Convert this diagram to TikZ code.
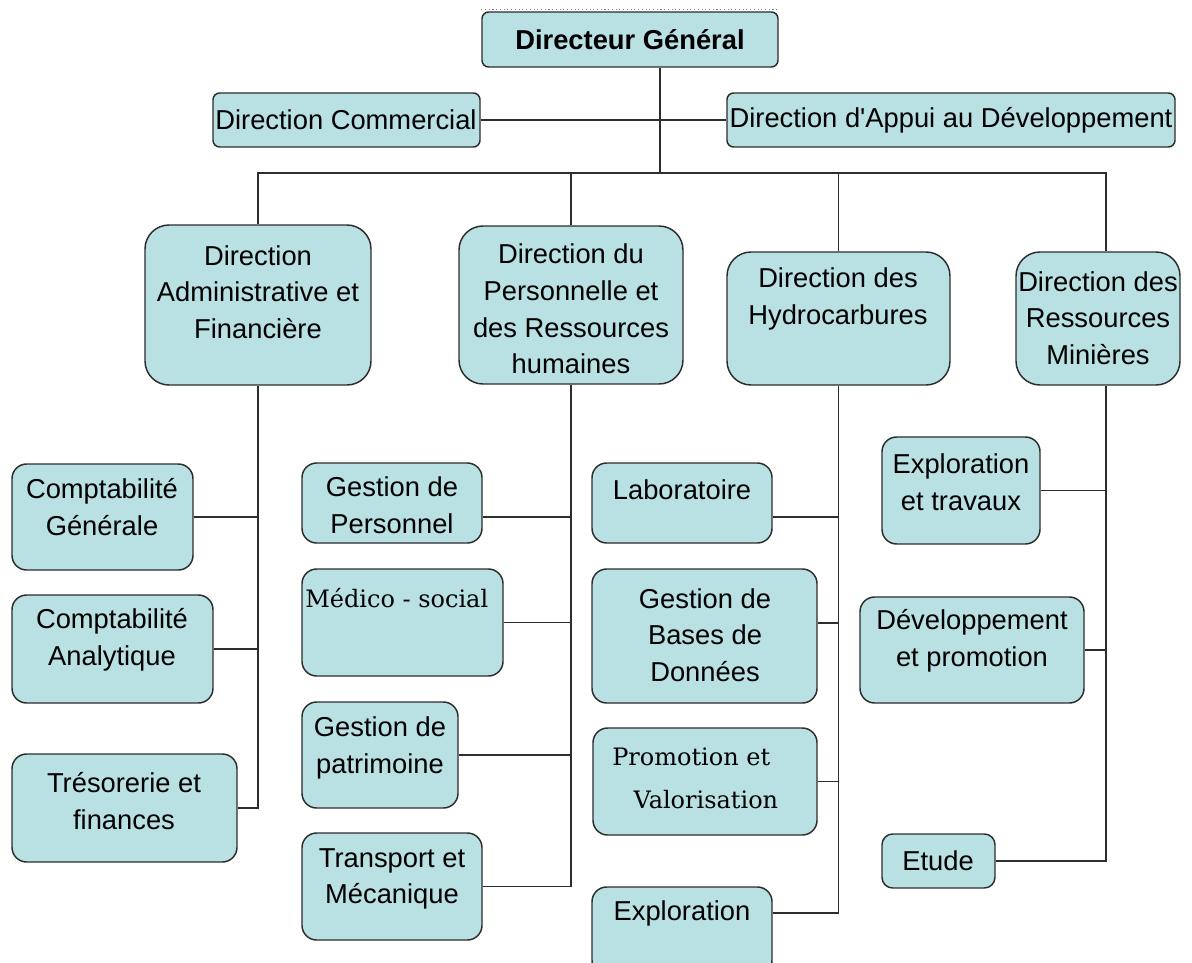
\documentclass[tikz,border=0pt]{standalone}
\usepackage{fontspec}
\setmainfont{Liberation Sans}
\newfontfamily\serifbox{DejaVu Serif}
\usetikzlibrary{fit}
\definecolor{boxfill}{RGB}{185,224,227}
\definecolor{boxline}{RGB}{45,45,45}
\begin{document}
\begin{tikzpicture}[x=0.75pt, y=-0.75pt,
    box/.style={draw=boxline, fill=boxfill, line width=1.1pt, inner sep=0pt, rounded corners=11pt},
    topbox/.style={box, rounded corners=5pt},
    bigbox/.style={box, rounded corners=18pt},
    txt/.style={align=center, inner sep=0pt, font=\fontsize{20.5}{27.5}\selectfont},
    serif/.style={txt, font=\serifbox\fontsize{18}{32}\selectfont},
    link/.style={draw=boxline, line width=1.2pt}]
    \useasboundingbox (0,0) rectangle (1192,963);
    \clip (0,0) rectangle (1192,963);

    \node[topbox, fit={(482,12) (778,67)}] (dg) {};
    \node[txt, font=\bfseries\fontsize{20.5}{27.5}\selectfont] (dgt) at (630,40) {Directeur Général};
    \draw[dotted, gray, thick] ([yshift=1pt]dg.north west) -- ([yshift=1pt]dg.north east);

    \node[topbox, fit={(213,93) (480,147)}] (dc) {};
    \node[txt] (dct) at (346,120) {Direction Commercial};
    \node[topbox, fit={(727,93) (1175,147)}] (dad) {};
    \node[txt] (dadt) at (951,120) {Direction d\textquotesingle Appui au Développement};

    \node[bigbox, fit={(145,225) (371,385)}] (daf) {};
    \node[txt] (daft) at (258,292) {Direction\\Administrative et\\Financière};
    \node[bigbox, fit={(459,226) (683,384)}] (dprh) {};
    \node[txt] (dprht) at (571,309) {Direction du\\Personnelle et\\des Ressources\\humaines};
    \node[bigbox, fit={(727,252) (950,385)}] (hydro) {};
    \node[txt] (hydrot) at (838,299) {Direction des\\Hydrocarbures};
    \node[bigbox, fit={(1016,252) (1180,385)}] (drm) {};
    \node[txt] (drmt) at (1098,318) {Direction des\\Ressources\\Minières};

    \node[box, fit={(12,464) (193,570)}] (cg) {};
    \node[txt] (cgt) at (102,507) {Comptabilité\\Générale};
    \node[box, fit={(12,595) (213,703)}] (ca) {};
    \node[txt] (cat) at (112,640) {Comptabilité\\Analytique};
    \node[box, fit={(12,754) (237,862)}] (tf) {};
    \node[txt] (tft) at (124,801) {Trésorerie et\\finances};

    \node[box, fit={(302,463) (482,543)}] (gp) {};
    \node[txt] (gpt) at (392,505) {Gestion de\\Personnel};
    \node[box, fit={(302,569) (503,676)}] (ms) {};
    \node[serif, anchor=west] (mst) at (305,598) {Médico - social};
    \node[box, fit={(302,702) (458,808)}] (gpa) {};
    \node[txt] (gpat) at (380,748) {Gestion de\\patrimoine};
    \node[box, fit={(302,833) (482,940)}] (tm) {};
    \node[txt] (tmt) at (392,879) {Transport et\\Mécanique};

    \node[box, fit={(592,463) (772,543)}] (lab) {};
    \node[txt] (labt) at (682,490) {Laboratoire};
    \node[box, fit={(592,569) (817,703)}] (bdd) {};
    \node[txt] (bddt) at (705,635) {Gestion de\\Bases de\\Données};
    \node[box, fit={(593,728) (817,835)}] (pv) {};
    \node[serif, align=left, anchor=west] (pvt) at (612,778) {Promotion et\\\hspace*{16pt}Valorisation};
    \node[box, fit={(592,887) (772,975)}] (expl) {};
    \node[txt] (explt) at (682,913) {Exploration};

    \node[box, fit={(882,437) (1040,544)}] (et) {};
    \node[txt] (ett) at (961,482) {Exploration\\et travaux};
    \node[box, fit={(860,597) (1084,703)}] (dev) {};
    \node[txt] (devt) at (972,641) {Développement\\et promotion};
    \node[box, rounded corners=8pt, fit={(882,834) (995,888)}] (etude) {};
    \node[txt] (etudet) at (938,861) {Etude};

    \coordinate (bus) at (660,173);
    \draw[link] ([xshift=22.5pt]dg.south) -- (bus);
    \draw[link] (dc.east) -- (dad.west);
    \draw[link] (daf.north) |- (bus) -| ([xshift=6pt]drm.north);
    \draw[link] (dprh.north) -- (dprh.north |- bus);
    \draw[link] (hydro.north) -- (hydro.north |- bus);

    \foreach \n in {cg,ca,tf}
        \draw[link] (\n.east) -| (daf.south);

    \draw[link] ([yshift=-10.5pt]gp.east) -| (dprh.south);
    \foreach \n in {ms,gpa,tm}
        \draw[link] (\n.east) -| (dprh.south);

    \draw[link] ([yshift=-10.5pt]lab.east) -| (hydro.south);
    \draw[link] ([yshift=9.75pt]bdd.east) -| (hydro.south);
    \draw[link] (pv.east) -| (hydro.south);
    \draw[link] ([yshift=13.5pt]expl.east) -| (hydro.south);

    \foreach \n in {et,dev,etude}
        \draw[link] (\n.east) -| ([xshift=6pt]drm.south);
\end{tikzpicture}
\end{document}
